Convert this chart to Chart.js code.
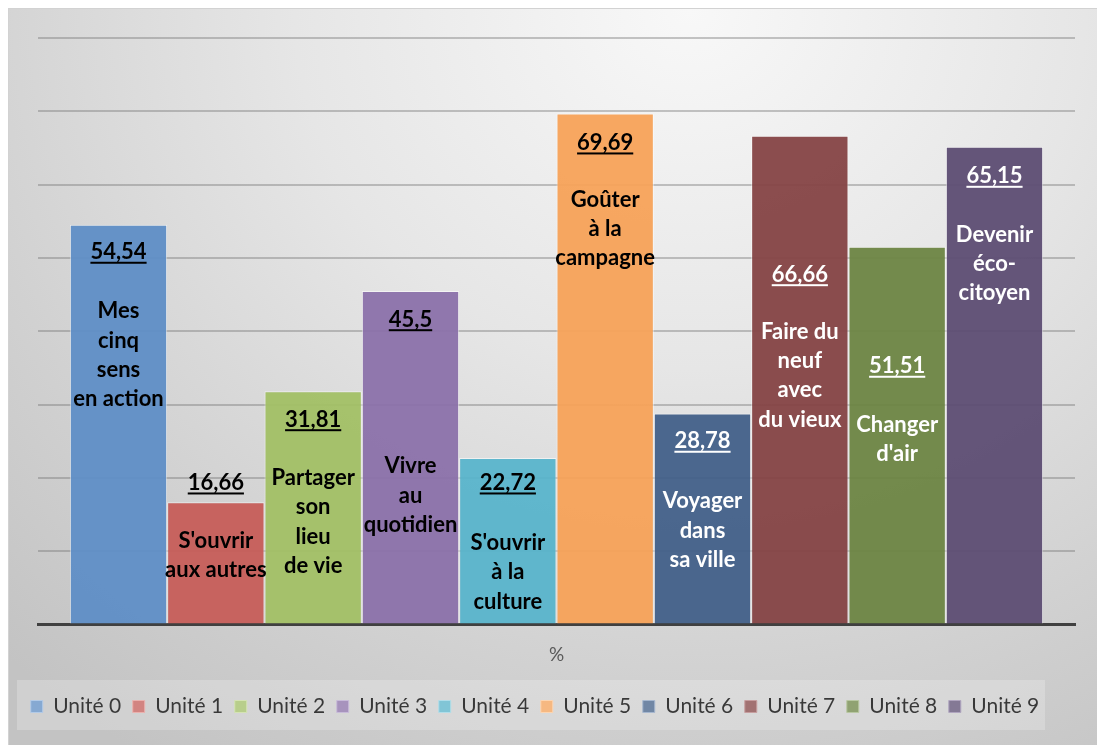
<!DOCTYPE html>
<html><head><meta charset="utf-8">
<script src="https://cdn.jsdelivr.net/npm/chart.js@4.4.0/dist/chart.umd.min.js"></script>
<style>
html,body{margin:0;padding:0;background:#fff;overflow:hidden;width:1097px;height:745px;}
#bg{position:absolute;left:8px;top:8px;width:1100px;height:750px;box-sizing:border-box;border:1px solid #d2d2d2;
background:radial-gradient(ellipse 90% 120% at 62% 0%, #f8f8f8 0%, #e6e6e6 40%, #d1d1d1 75%, #c3c3c3 100%);}
#c{position:absolute;left:0;top:0;}
</style></head><body>
<div id="bg"></div>
<canvas id="c" width="1097" height="745"></canvas>
<script>
// ---- data ----
const categories = ['%'];
const seriesNames = ['Unité 0','Unité 1','Unité 2','Unité 3','Unité 4','Unité 5','Unité 6','Unité 7','Unité 8','Unité 9'];
const values = [54.54, 16.66, 31.81, 45.5, 22.72, 69.69, 28.78, 66.66, 51.51, 65.15];
const valueTexts = ['54,54','16,66','31,81','45,5','22,72','69,69','28,78','66,66','51,51','65,15'];
const barTitles = [
  ['Mes','cinq','sens','en action'],
  ["S'ouvrir",'aux autres'],
  ['Partager','son','lieu','de vie'],
  ['Vivre','au','quotidien'],
  ["S'ouvrir",'à la','culture'],
  ['Goûter','à la','campagne'],
  ['Voyager','dans','sa ville'],
  ['Faire du','neuf','avec','du vieux'],
  ['Changer',"d'air"],
  ['Devenir','éco-','citoyen']
];
const yMin = 0, yMax = 80, yStep = 10;

// ---- styles ----
const barColors = ['rgba(95,142,198,0.95)','rgba(198,93,89,0.95)','rgba(162,192,101,0.95)','rgba(139,113,170,0.95)','rgba(89,180,203,0.95)',
  'rgba(247,162,89,0.95)','rgba(66,96,137,0.95)','rgba(133,67,69,0.95)','rgba(109,133,67,0.95)','rgba(93,77,115,0.95)'];
const legendBorders = ['#9dbbe0','#e49b98','#c8dc9e','#b9a8cf','#9bd4e3','#fbc99b','#8ea3c2','#b78385','#a5b888','#9a8cae'];
const labelColors = ['#000','#000','#000','#000','#000','#000','#fff','#fff','#fff','#fff'];
// label anchor (baseline) positions expressed in axis units
const valueLabelAt = [49.82, 18.35, 26.98, 40.62, 18.35, 64.73, 24.04, 46.76, 34.27, 60.18];
const titleLabelAt = [41.77, 10.44, 19.03, 20.63, 10.16, 56.99, 15.85, 38.97, 26.30, 52.22];

const FONT = 'Lato, "Open Sans", sans-serif';

const labelPlugin = {
  id: 'barLabels',
  afterDatasetsDraw(chart) {
    const ctx = chart.ctx, y = chart.scales.y;
    ctx.save();
    ctx.textAlign = 'center';
    ctx.textBaseline = 'alphabetic';
    chart.data.datasets.forEach((ds, i) => {
      const el = chart.getDatasetMeta(i).data[0];
      const x = el.x;
      ctx.fillStyle = labelColors[i];
      ctx.font = 'bold 22px ' + FONT;
      const vy = y.getPixelForValue(valueLabelAt[i]);
      const t = valueTexts[i];
      ctx.fillText(t, x, vy);
      const w = ctx.measureText(t).width;
      ctx.fillRect(x - w / 2, vy + 2.5, w, 2);
      const ty = y.getPixelForValue(titleLabelAt[i]);
      barTitles[i].forEach((line, k) => ctx.fillText(line, x, ty + k * 29.3));
    });
    ctx.restore();
  }
};

const legendPlugin = {
  id: 'legendShift',
  afterLayout(chart) {
    const lg = chart.legend;
    lg.left -= 21.5; lg.right -= 21.5;
  },
  beforeDatasetsDraw(chart) {
    const ctx = chart.ctx;
    ctx.save();
    ctx.fillStyle = 'rgba(255,255,255,0.22)';
    ctx.fillRect(17, 680, 1028, 50);
    ctx.restore();
  }
};

new Chart(document.getElementById('c'), {
  type: 'bar',
  data: {
    labels: categories,
    datasets: seriesNames.map((n, i) => ({
      label: n,
      data: [values[i]],
      backgroundColor: barColors[i],
      borderColor: 'rgba(255,255,255,0.55)',
      borderWidth: 1,
      categoryPercentage: 0.9386,
      barPercentage: 1
    }))
  },
  options: {
    responsive: false,
    animation: false,
    layout: { padding: { left: 38, right: 22, top: 38, bottom: 18 } },
    scales: {
      x: {
        grid: { display: false, drawTicks: false },
        border: { display: true, color: '#404040', width: 3 },
        ticks: { color: '#595959', font: { family: FONT, size: 19 }, padding: 19 },
        afterFit(s) { s.height = 60; }
      },
      y: {
        min: yMin, max: yMax,
        ticks: { display: false, stepSize: yStep },
        grid: { color: 'rgba(115,115,115,0.4)', lineWidth: 2, drawTicks: false },
        border: { display: false },
        afterFit(s) { s.width = 0; }
      }
    },
    plugins: {
      legend: {
        position: 'bottom',
        labels: {
          color: '#595959',
          font: { family: FONT, size: 21 },
          boxWidth: 12, boxHeight: 12, padding: 11.5,
          generateLabels(chart) {
            return chart.data.datasets.map((ds, i) => ({
              text: ds.label, fillStyle: barColors[i], strokeStyle: legendBorders[i],
              lineWidth: 1, hidden: false, datasetIndex: i
            }));
          }
        }
      },
      tooltip: { enabled: false }
    }
  },
  plugins: [labelPlugin, legendPlugin]
});
</script>
</body></html>
